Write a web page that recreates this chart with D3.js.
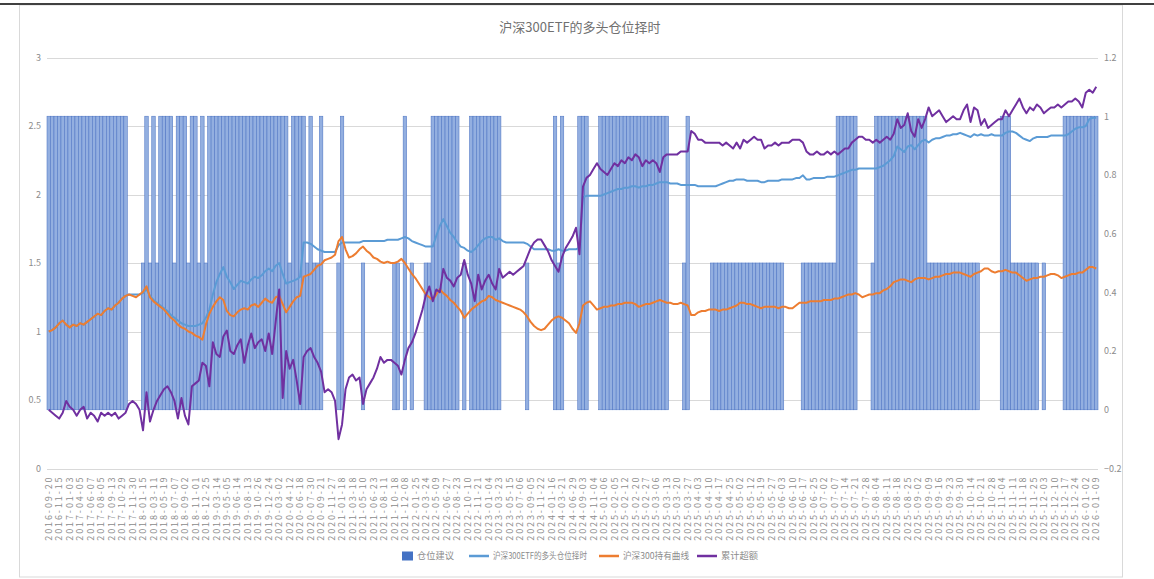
<!DOCTYPE html>
<html><head><meta charset="utf-8">
<script src="https://cdn.jsdelivr.net/npm/d3@7"></script>
<style>
body{margin:0;background:#fff}
svg{display:block}
text{font-family:"Noto Sans CJK SC","Noto Sans",sans-serif}
</style>
</head><body><svg id="c" width="1154" height="579"></svg>
<script>
const title = "沪深300ETF的多头仓位择时";
const seriesNames = ["仓位建议", "沪深300ETF的多头仓位择时", "沪深300持有曲线", "累计超额"];
const leftTicks = [0, 0.5, 1, 1.5, 2, 2.5, 3];
const rightTicks = [-0.2, 0, 0.2, 0.4, 0.6, 0.8, 1, 1.2];
const tickLabels = [
"2016-09-20","2016-11-15","2017-01-03","2017-04-05","2017-06-07","2017-08-05","2017-09-13","2017-10-29","2017-11-30","2018-01-15",
"2018-03-11","2018-05-19","2018-07-07","2018-09-02","2018-11-01","2018-12-25","2019-03-14","2019-05-05","2019-06-14","2019-08-13",
"2019-10-26","2019-12-24","2020-03-02","2020-04-12","2020-06-18","2020-07-30","2020-09-21","2020-11-27","2021-01-18","2021-03-18",
"2021-05-10","2021-06-23","2021-08-11","2021-10-18","2021-12-08","2022-01-25","2022-03-24","2022-05-09","2022-06-27","2022-08-23",
"2022-10-10","2022-11-21","2023-01-04","2023-03-23","2023-05-15","2023-07-06","2023-09-05","2023-11-22","2024-01-16","2024-03-21",
"2024-06-29","2024-09-03","2024-11-04","2025-01-06","2025-02-05","2025-02-12","2025-02-20","2025-02-27","2025-03-06","2025-03-13",
"2025-03-20","2025-03-27","2025-04-03","2025-04-10","2025-04-17","2025-04-25","2025-05-02","2025-05-12","2025-05-19","2025-05-27",
"2025-06-03","2025-06-10","2025-06-17","2025-06-25","2025-07-02","2025-07-07","2025-07-14","2025-07-21","2025-07-28","2025-08-04",
"2025-08-11","2025-08-18","2025-08-25","2025-09-02","2025-09-09","2025-09-16","2025-09-23","2025-09-30","2025-10-14","2025-10-21",
"2025-10-28","2025-11-04","2025-11-11","2025-11-18","2025-11-25","2025-12-03","2025-12-10","2025-12-17","2025-12-24","2026-01-02",
"2026-01-09"];

// 仓位建议 (right axis)
const position = [
1,1,1,1,1,1,1,1,1,1,
1,1,1,1,1,1,1,1,1,1,
1,1,1,0,0,0,0,0.5,1,0.5,
1,0.5,1,1,1,1,0.5,1,1,1,
0.5,1,1,0.5,1,0.5,1,1,1,1,
1,1,1,1,1,1,1,1,1,1,
1,1,1,1,1,1,1,1,1,0.5,
1,1,1,1,0.5,1,0.5,0.5,1,0,
0,0,0,0.5,1,0,0,0,0,0,
0.5,0,0,0,0,0,0,0,0,0.5,
0.5,0,1,0,0.5,0,0,0,0.5,0.5,
1,1,1,1,1,1,1,1,0,0.5,
0,1,1,1,1,1,1,1,1,1,
0,0,0,0,0,0,0,0.5,0,0,
0,0,0,0,0,1,0.5,1,0,0,
0,0,1,1,1,0,0,0,1,1,
1,1,1,1,1,1,1,1,1,1,
1,1,1,1,1,1,1,1,0,0,
0,0,0.5,1,0,0,0,0,0,0,
0.5,0.5,0.5,0.5,0.5,0.5,0.5,0.5,0.5,0.5,
0.5,0.5,0.5,0.5,0.5,0.5,0.5,0.5,0.5,0.5,
0.5,0,0,0,0,0,0.5,0.5,0.5,0.5,
0.5,0.5,0.5,0.5,0.5,0.5,1,1,1,1,
1,1,0,0,0,0,0.5,1,1,1,
1,1,1,1,1,1,1,1,1,1,
1,1,0.5,0.5,0.5,0.5,0.5,0.5,0.5,0.5,
0.5,0.5,0.5,0.5,0.5,0.5,0.5,0,0,0,
0,0,0,1,1,1,0.5,0.5,0.5,0.5,
0.5,0.5,0.5,0.5,0,0.5,0,0,0,0,
0,1,1,1,1,1,1,1,1,1,
1];

// 沪深300ETF的多头仓位择时 (left axis)
const strategy = [
1.00,1.01,1.03,1.06,1.08,1.05,1.03,1.05,1.04,1.06,
1.05,1.07,1.09,1.11,1.13,1.12,1.15,1.17,1.16,1.19,
1.21,1.24,1.26,1.27,1.27,1.27,1.27,1.28,1.31,1.26,
1.23,1.21,1.19,1.17,1.15,1.12,1.10,1.08,1.06,1.05,
1.04,1.04,1.04,1.05,1.06,1.10,1.16,1.27,1.36,1.42,
1.47,1.40,1.36,1.31,1.34,1.37,1.36,1.35,1.38,1.40,
1.39,1.41,1.44,1.46,1.44,1.48,1.50,1.42,1.35,1.36,
1.37,1.38,1.40,1.65,1.65,1.64,1.62,1.60,1.59,1.58,
1.58,1.58,1.58,1.63,1.65,1.65,1.65,1.65,1.65,1.65,
1.66,1.66,1.66,1.66,1.66,1.66,1.66,1.67,1.67,1.67,
1.67,1.68,1.69,1.68,1.66,1.65,1.64,1.63,1.62,1.62,
1.62,1.70,1.77,1.82,1.77,1.72,1.69,1.65,1.62,1.61,
1.59,1.58,1.60,1.63,1.66,1.68,1.69,1.69,1.67,1.68,
1.66,1.65,1.65,1.65,1.65,1.65,1.65,1.64,1.62,1.60,
1.60,1.60,1.60,1.60,1.59,1.59,1.60,1.59,1.59,1.60,
1.60,1.60,1.61,1.98,1.99,1.99,1.99,1.99,1.99,2.00,
2.01,2.02,2.03,2.04,2.04,2.05,2.05,2.06,2.06,2.05,
2.06,2.06,2.07,2.07,2.08,2.09,2.09,2.09,2.08,2.08,
2.08,2.07,2.07,2.07,2.07,2.07,2.06,2.06,2.06,2.06,
2.06,2.06,2.07,2.08,2.09,2.10,2.10,2.11,2.11,2.11,
2.10,2.10,2.10,2.10,2.09,2.09,2.10,2.10,2.10,2.10,
2.11,2.11,2.11,2.11,2.12,2.12,2.14,2.11,2.11,2.12,
2.12,2.12,2.12,2.13,2.13,2.13,2.14,2.15,2.16,2.17,
2.18,2.18,2.19,2.19,2.19,2.19,2.19,2.19,2.20,2.21,
2.23,2.25,2.28,2.35,2.33,2.31,2.35,2.36,2.33,2.36,
2.39,2.40,2.38,2.40,2.41,2.41,2.42,2.43,2.43,2.44,
2.44,2.45,2.44,2.43,2.42,2.44,2.43,2.44,2.43,2.43,
2.44,2.43,2.43,2.43,2.45,2.46,2.46,2.45,2.43,2.41,
2.40,2.39,2.41,2.42,2.42,2.42,2.42,2.43,2.43,2.43,
2.43,2.43,2.44,2.46,2.48,2.49,2.49,2.50,2.55,2.56,
2.56];

// 沪深300持有曲线 (left axis)
const hold = [
1.00,1.01,1.03,1.06,1.08,1.05,1.03,1.05,1.04,1.06,
1.05,1.07,1.09,1.11,1.13,1.12,1.15,1.17,1.16,1.19,
1.21,1.24,1.26,1.27,1.26,1.25,1.27,1.29,1.33,1.25,
1.22,1.20,1.18,1.16,1.13,1.10,1.08,1.05,1.03,1.02,
1.00,0.99,0.97,0.96,0.94,1.05,1.13,1.18,1.22,1.25,
1.23,1.15,1.12,1.11,1.14,1.16,1.17,1.16,1.19,1.20,
1.18,1.21,1.24,1.22,1.21,1.25,1.26,1.20,1.14,1.18,
1.22,1.25,1.26,1.40,1.41,1.42,1.45,1.48,1.49,1.52,
1.53,1.54,1.56,1.66,1.69,1.60,1.54,1.55,1.57,1.60,
1.62,1.59,1.57,1.54,1.53,1.51,1.50,1.51,1.50,1.50,
1.51,1.53,1.50,1.46,1.42,1.39,1.35,1.31,1.27,1.25,
1.23,1.27,1.31,1.28,1.26,1.23,1.21,1.18,1.15,1.10,
1.13,1.16,1.18,1.20,1.22,1.23,1.26,1.25,1.23,1.22,
1.21,1.20,1.19,1.18,1.17,1.16,1.14,1.11,1.07,1.04,
1.02,1.01,1.02,1.05,1.08,1.10,1.11,1.10,1.08,1.06,
1.02,0.99,1.06,1.19,1.21,1.22,1.19,1.16,1.17,1.18,
1.18,1.19,1.19,1.20,1.20,1.21,1.21,1.21,1.20,1.18,
1.19,1.20,1.20,1.21,1.22,1.23,1.22,1.21,1.21,1.20,
1.20,1.21,1.20,1.19,1.12,1.12,1.14,1.15,1.15,1.16,
1.16,1.16,1.15,1.16,1.16,1.17,1.18,1.19,1.21,1.21,
1.20,1.20,1.19,1.18,1.17,1.18,1.18,1.18,1.18,1.17,
1.18,1.18,1.17,1.17,1.19,1.21,1.21,1.21,1.22,1.22,
1.22,1.22,1.23,1.23,1.23,1.24,1.24,1.25,1.26,1.27,
1.27,1.28,1.27,1.25,1.26,1.27,1.27,1.28,1.28,1.30,
1.31,1.33,1.36,1.37,1.38,1.38,1.37,1.36,1.38,1.39,
1.39,1.39,1.38,1.39,1.40,1.40,1.41,1.42,1.42,1.43,
1.43,1.43,1.42,1.41,1.40,1.42,1.43,1.44,1.46,1.46,
1.44,1.43,1.44,1.44,1.45,1.44,1.43,1.43,1.41,1.39,
1.37,1.38,1.39,1.39,1.40,1.40,1.41,1.42,1.42,1.41,
1.39,1.40,1.41,1.42,1.42,1.43,1.43,1.45,1.47,1.47,
1.46];

// 累计超额 (right axis)
const excess = [
0.00,-0.01,-0.02,-0.03,-0.01,0.03,0.01,0.00,-0.02,0.00,
0.01,-0.03,-0.01,-0.02,-0.04,-0.01,-0.02,-0.01,-0.02,-0.01,
-0.03,-0.02,-0.01,0.02,0.03,0.02,0.00,-0.07,0.06,-0.04,
0.00,0.03,0.05,0.07,0.08,0.06,0.03,-0.03,0.04,-0.02,
-0.05,0.08,0.09,0.10,0.16,0.15,0.08,0.23,0.19,0.18,
0.25,0.27,0.20,0.19,0.22,0.24,0.16,0.22,0.26,0.21,
0.23,0.24,0.20,0.26,0.19,0.30,0.41,0.04,0.20,0.14,
0.17,0.10,0.02,0.18,0.20,0.21,0.18,0.16,0.13,0.06,
0.07,0.06,0.03,-0.10,-0.05,0.07,0.11,0.12,0.10,0.11,
0.02,0.07,0.09,0.11,0.14,0.18,0.16,0.17,0.17,0.16,
0.15,0.12,0.17,0.21,0.23,0.26,0.30,0.34,0.39,0.42,
0.37,0.41,0.40,0.48,0.45,0.44,0.42,0.45,0.46,0.51,
0.46,0.43,0.37,0.46,0.41,0.44,0.46,0.43,0.41,0.48,
0.45,0.46,0.47,0.46,0.47,0.48,0.49,0.52,0.55,0.57,
0.58,0.58,0.56,0.54,0.51,0.49,0.47,0.52,0.55,0.57,
0.59,0.62,0.53,0.76,0.79,0.80,0.82,0.84,0.82,0.81,
0.80,0.82,0.84,0.83,0.85,0.84,0.86,0.85,0.87,0.86,
0.83,0.85,0.84,0.85,0.84,0.81,0.86,0.87,0.87,0.87,
0.87,0.88,0.88,0.88,0.95,0.94,0.92,0.92,0.91,0.91,
0.91,0.91,0.91,0.90,0.91,0.90,0.89,0.91,0.89,0.92,
0.91,0.92,0.93,0.92,0.92,0.89,0.90,0.90,0.91,0.90,
0.91,0.91,0.91,0.92,0.92,0.92,0.91,0.88,0.87,0.87,
0.88,0.87,0.87,0.88,0.87,0.88,0.87,0.88,0.89,0.89,
0.91,0.92,0.93,0.93,0.92,0.92,0.91,0.92,0.91,0.92,
0.93,0.92,0.94,0.99,0.96,0.97,1.01,0.95,0.93,0.99,
0.96,0.99,1.03,1.00,1.01,1.02,1.00,0.98,0.99,1.00,
0.99,0.99,1.02,1.04,0.98,1.03,1.02,0.97,0.99,0.96,
0.97,0.98,0.99,0.99,1.02,1.00,1.02,1.04,1.06,1.03,
1.01,1.03,1.02,1.04,1.03,1.01,1.02,1.03,1.03,1.04,
1.03,1.04,1.05,1.05,1.06,1.05,1.03,1.08,1.09,1.08,
1.10];

const categories = position.map((_, i) => i);
const labelStep = 3;

const W = 1154, H = 579;
const plot = {l: 47, r: 1098, t: 57.5, b: 468.5};
const colors = {bar: "#93afe0", barEdge: "#4e75c4", strategy: "#5b9bd5", hold: "#ed7d31", excess: "#7030a0", legendBar: "#4472c4"};
const gridColor = "#d9d9d9", textColor = "#8c8c8c";

const svg = d3.select("#c");

// frame
svg.append("rect").attr("x", 19.5).attr("y", 5).attr("width", 1103).attr("height", 572)
  .attr("fill", "#fff").attr("stroke", "#d9d9d9");
svg.append("line").attr("x1", 0).attr("x2", W).attr("y1", 4).attr("y2", 4)
  .attr("stroke", "#404040").attr("stroke-width", 2);

const x = d3.scaleBand().domain(categories).range([plot.l, plot.r]).padding(0);
const yL = d3.scaleLinear().domain([0, 3]).range([plot.b, plot.t]);
const yR = d3.scaleLinear().domain([-0.2, 1.2]).range([plot.b, plot.t]);
const bw = x.bandwidth();

// gridlines
svg.append("g").selectAll("line").data(leftTicks).join("line")
  .attr("x1", plot.l).attr("x2", plot.r)
  .attr("y1", d => Math.round(yL(d)) + 0.5).attr("y2", d => Math.round(yL(d)) + 0.5)
  .attr("stroke", gridColor).attr("stroke-width", 1);

// title
svg.append("text").attr("x", 580).attr("y", 32).attr("text-anchor", "middle")
  .attr("font-size", 13).attr("fill", "#707070").text(title);

// bars
const barData = categories.map(i => ({i, v: position[i]})).filter(d => d.v > 0);
svg.append("g").selectAll("rect").data(barData).join("rect")
  .attr("x", d => x(d.i)).attr("width", bw)
  .attr("y", d => yR(d.v)).attr("height", d => yR(0) - yR(d.v))
  .attr("fill", colors.bar).attr("stroke", colors.barEdge).attr("stroke-width", 0.55);

// lines
const cx = i => x(i) + bw / 2;
const lineL = arr => d3.line().x(i => cx(i)).y(i => yL(arr[i]))(categories);
const lineR = arr => d3.line().x(i => cx(i)).y(i => yR(arr[i]))(categories);
svg.append("path").attr("d", lineL(strategy)).attr("fill", "none")
  .attr("stroke", colors.strategy).attr("stroke-width", 2).attr("stroke-linejoin", "round");
svg.append("path").attr("d", lineL(hold)).attr("fill", "none")
  .attr("stroke", colors.hold).attr("stroke-width", 2).attr("stroke-linejoin", "round");
svg.append("path").attr("d", lineR(excess)).attr("fill", "none")
  .attr("stroke", colors.excess).attr("stroke-width", 2).attr("stroke-linejoin", "round");

// axes
const styleAxis = g => {
  g.select(".domain").remove();
  g.selectAll(".tick line").remove();
  g.selectAll("text").attr("fill", textColor).attr("font-size", 9)
    .attr("font-family", '"Liberation Sans","Noto Sans",sans-serif');
};
svg.append("g").attr("transform", `translate(${plot.l},0)`)
  .call(d3.axisLeft(yL).tickValues(leftTicks).tickSize(0).tickPadding(6).tickFormat(d3.format("")))
  .call(styleAxis);
svg.append("g").attr("transform", `translate(${plot.r},0)`)
  .call(d3.axisRight(yR).tickValues(rightTicks).tickSize(0).tickPadding(6).tickFormat(d3.format("")))
  .call(styleAxis);
const xa = svg.append("g").attr("transform", `translate(0,${plot.b})`)
  .call(d3.axisBottom(x).tickValues(categories.filter(i => i % labelStep === 0))
    .tickSize(0).tickFormat(i => tickLabels[i / labelStep]))
  .call(styleAxis);
xa.selectAll("text").attr("transform", "rotate(-90)").attr("text-anchor", "end")
  .attr("x", -7).attr("y", 0).attr("dy", "0.35em").attr("letter-spacing", 1.9);

// legend
const lg = svg.append("g").attr("font-size", 9).attr("fill", textColor);
const ly = 556;
lg.append("rect").attr("x", 402).attr("y", ly - 4.5).attr("width", 11).attr("height", 9).attr("fill", colors.legendBar);
lg.append("text").attr("x", 417).attr("y", ly).attr("dy", "0.35em").attr("fill", textColor)
  .attr("textLength", 37).attr("lengthAdjust", "spacingAndGlyphs").text(seriesNames[0]);
const legLines = [
  {x: 469, w: 94, name: seriesNames[1], c: colors.strategy},
  {x: 599, w: 66, name: seriesNames[2], c: colors.hold},
  {x: 697, w: 37, name: seriesNames[3], c: colors.excess}
];
legLines.forEach(d => {
  lg.append("line").attr("x1", d.x).attr("x2", d.x + 20).attr("y1", ly).attr("y2", ly)
    .attr("stroke", d.c).attr("stroke-width", 2.5);
  lg.append("text").attr("x", d.x + 24).attr("y", ly).attr("dy", "0.35em").attr("fill", textColor)
    .attr("textLength", d.w).attr("lengthAdjust", "spacingAndGlyphs").text(d.name);
});
</script>
</body></html>
